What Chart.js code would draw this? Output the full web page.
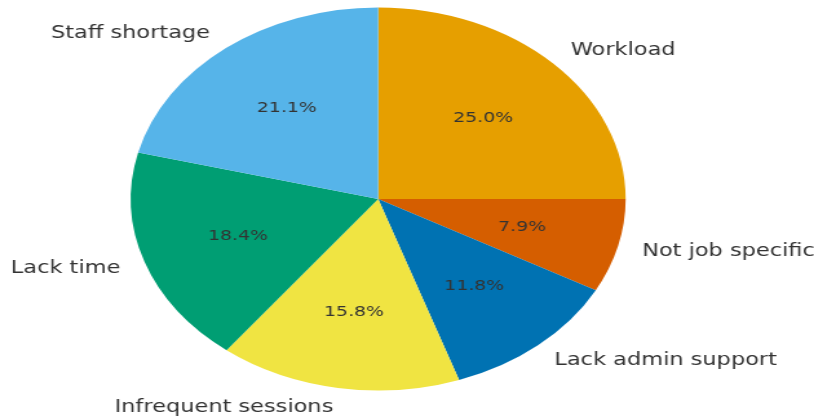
<!DOCTYPE html>
<html>
<head>
<meta charset="utf-8">
<script src="https://cdn.jsdelivr.net/npm/chart.js@4.4.1/dist/chart.umd.min.js"></script>
<style>
  html, body { margin: 0; padding: 0; background: #ffffff; overflow: hidden; }
  #wrap { position: absolute; left: 0; top: 0; width: 630px; height: 419px;
          transform: scaleX(1.2921); transform-origin: 0 0; }
</style>
</head>
<body>
<div id="wrap"><canvas id="c"></canvas></div>
<script>
const categories = ["Workload", "Not job specific", "Lack admin support", "Infrequent sessions", "Lack time", "Staff shortage"];
const shares = [25.0, 7.9, 11.8, 15.8, 18.4, 21.1];
const sliceColors = ["#E69F00", "#D55E00", "#0072B2", "#F0E442", "#009E73", "#56B4E9"];

const pieLabels = {
  id: 'pieLabels',
  afterDatasetsDraw(chart) {
    const ctx = chart.ctx;
    const meta = chart.getDatasetMeta(0);
    const values = chart.data.datasets[0].data;
    const total = values.reduce((a, b) => a + b, 0);
    ctx.save();
    ctx.fillStyle = '#333333';
    ctx.textBaseline = 'middle';
    meta.data.forEach((arc, i) => {
      const p = arc.getProps(['x', 'y', 'startAngle', 'endAngle', 'outerRadius'], true);
      const mid = (p.startAngle + p.endAngle) / 2;
      const c = Math.cos(mid), s = Math.sin(mid);
      // category label
      ctx.font = '17.4px "DejaVu Sans"';
      ctx.textAlign = c >= 0 ? 'left' : 'right';
      const off = c >= 0 ? 0 : -0.5;
      ctx.fillText(chart.data.labels[i], p.x + c * 1.1 * p.outerRadius + off, p.y + s * 1.1 * p.outerRadius + 0.5);
      // percentage
      ctx.font = '14.6px "DejaVu Sans"';
      ctx.textAlign = 'center';
      const pct = (values[i] / total * 100).toFixed(1) + '%';
      ctx.fillText(pct, p.x + c * 0.6 * p.outerRadius, p.y + s * 0.6 * p.outerRadius);
    });
    ctx.restore();
  }
};

new Chart(document.getElementById('c'), {
  type: 'pie',
  data: {
    labels: categories,
    datasets: [{
      data: shares,
      backgroundColor: sliceColors,
      borderWidth: 0
    }]
  },
  options: {
    responsive: true,
    maintainAspectRatio: false,
    animation: false,
    radius: 191.5,
    layout: { padding: { left: 0, right: 44.6, top: 0, bottom: 21 } },
    plugins: {
      legend: { display: false },
      tooltip: { enabled: false }
    }
  },
  plugins: [pieLabels]
});
</script>
</body>
</html>
